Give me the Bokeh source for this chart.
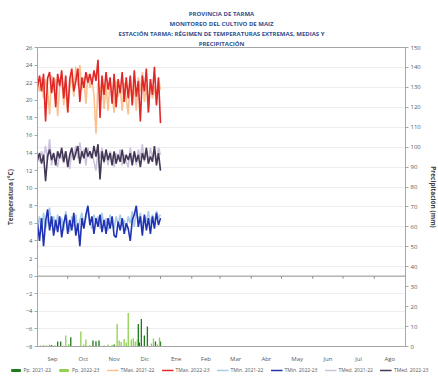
import numpy as np
from bokeh.plotting import figure
from bokeh.models import (Range1d, LinearAxis, FixedTicker, Legend, LegendItem,
                          Span, Title, Grid)
from bokeh.embed import file_html
from bokeh.resources import INLINE

# ---------------- data ----------------
months = ["Sep", "Oct", "Nov", "Dic", "Ene", "Feb", "Mar", "Abr", "May", "Jun", "Jul", "Ago"]
month_days = [30, 31, 30, 31, 31, 28, 31, 30, 31, 30, 31, 31]

days = list(range(0, 123, 2))  # day of season (from 1 Sep), every second day

tmax_2122 = [22.0, 21.0, 22.6, 20.2, 22.4, 21.2, 18.4, 22.8, 21.0, 22.4, 18.2, 21.6, 22.6, 19.4, 21.8, 18.6,
             21.4, 22.8, 20.4, 23.8, 21.6, 24.0, 21.2, 22.6, 19.6, 23.0, 21.4, 22.2, 20.6, 16.2, 22.0, 20.8,
             22.4, 19.0, 21.8, 18.8, 22.4, 20.8, 18.6, 22.2, 20.4, 21.6, 18.8, 22.0, 20.2, 18.4, 22.6, 19.6,
             21.8, 18.8, 22.6, 21.0, 23.2, 19.8, 21.8, 18.6, 22.4, 20.2, 21.6, 19.6, 22.4, 21.2]
tmax_2223 = [21.5, 22.8, 21.0, 23.0, 17.6, 22.5, 23.2, 20.8, 22.6, 19.2, 23.0, 21.6, 23.4, 20.2, 22.8, 18.6,
             22.4, 23.6, 21.0, 22.2, 23.6, 19.8, 22.6, 21.4, 23.2, 22.0, 23.0, 21.8, 23.4, 22.2, 24.6, 18.0,
             22.8, 20.6, 23.2, 21.2, 22.6, 19.6, 23.0, 19.2, 22.4, 20.8, 23.2, 19.8, 22.6, 20.2, 22.8, 19.4,
             23.4, 20.4, 22.2, 17.6, 22.8, 21.0, 23.6, 18.6, 22.4, 20.6, 23.8, 19.4, 22.6, 17.4]
tmin_2122 = [5.6, 6.8, 5.0, 7.2, 5.4, 6.4, 7.8, 5.6, 6.8, 5.2, 7.0, 5.8, 6.6, 5.2, 7.4, 6.0,
             5.0, 6.8, 5.6, 7.0, 5.2, 6.4, 7.2, 5.8, 6.6, 7.6, 6.2, 5.4, 7.0, 6.0, 6.8, 5.4,
             7.2, 5.6, 6.6, 5.2, 7.0, 6.0, 5.4, 6.8, 5.8, 7.0, 5.6, 6.4, 5.2, 6.8, 6.0, 7.4,
             5.6, 7.6, 6.2, 7.2, 5.6, 6.8, 6.2, 7.4, 5.8, 7.0, 6.2, 7.4, 6.6, 7.0]
tmin_2223 = [6.0, 4.0, 6.6, 3.4, 6.2, 7.6, 5.2, 6.8, 4.6, 6.4, 5.0, 6.8, 4.4, 6.0, 7.0, 4.8,
             6.4, 5.2, 7.2, 4.6, 6.0, 3.4, 6.6, 5.4, 7.0, 8.0, 5.8, 6.8, 4.8, 6.6, 5.6, 7.0,
             5.0, 6.4, 4.8, 6.6, 5.4, 6.8, 4.6, 4.4, 6.2, 5.2, 6.6, 4.8, 6.0, 5.4, 4.0, 6.4,
             7.0, 8.0, 5.6, 6.8, 4.6, 7.0, 5.2, 6.6, 4.8, 6.8, 5.4, 7.2, 5.8, 6.6]
tmed_2122 = [13.8, 13.0, 14.2, 13.4, 14.8, 13.2, 15.6, 12.6, 14.0, 13.2, 12.4, 14.0, 13.6, 12.8, 14.2, 13.0,
             12.2, 14.4, 13.6, 14.8, 13.4, 15.2, 13.6, 14.4, 12.6, 14.6, 13.4, 14.0, 13.0, 12.0, 14.2, 13.4,
             14.6, 12.8, 14.0, 12.6, 14.2, 13.6, 12.4, 14.0, 13.2, 14.4, 12.6, 13.8, 13.0, 12.4, 14.6, 13.2,
             14.0, 12.6, 14.4, 13.4, 15.0, 13.0, 14.2, 12.8, 14.6, 13.4, 14.0, 12.8, 14.6, 13.8]
tmed_2223 = [13.2, 14.0, 12.8, 13.8, 10.8, 13.6, 14.4, 13.2, 14.0, 12.6, 14.2, 13.4, 14.6, 13.0, 14.2, 12.4,
             13.8, 14.6, 13.2, 14.0, 14.8, 12.8, 14.2, 13.4, 14.6, 13.6, 14.2, 13.4, 14.8, 13.6, 15.0, 11.0,
             14.2, 13.0, 14.4, 13.2, 14.0, 12.6, 14.2, 12.8, 13.8, 13.0, 14.4, 12.8, 13.8, 13.2, 14.0, 12.6,
             14.2, 13.0, 13.8, 12.4, 14.0, 13.2, 14.6, 12.8, 13.6, 13.0, 14.8, 12.6, 14.0, 12.0]

pp2122_day = [14, 20, 23, 33, 55, 58, 61, 76, 100, 101, 103, 106, 109, 117, 122]
pp2122_mm = [0.8, 2.5, 2.5, 4.7, 3.0, 2.6, 3.0, 1.0, 11.3, 2.0, 13.8, 5.5, 10.0, 2.5, 2.5]
pp2223_day = [3, 6, 9, 12, 17, 28, 31, 43, 46, 48, 52, 66, 70, 74, 79, 81, 83, 86, 88, 90,
              93, 95, 97, 99, 113, 115, 119, 121]
pp2223_mm = [0.5, 0.8, 0.5, 1.0, 0.6, 5.5, 1.2, 7.5, 1.0, 3.5, 0.8, 0.6, 1.0, 0.8, 11.3, 3.0,
             2.2, 3.8, 2.0, 16.8, 3.5, 4.2, 2.5, 3.5, 1.5, 4.0, 1.0, 4.5]

temp_ticks = list(range(-8, 27, 2))
pp_ticks = list(range(0, 151, 10))
title_lines = ["PROVINCIA DE TARMA", "MONITOREO DEL CULTIVO DE MAIZ",
               "ESTACIÓN TARMA: RÉGIMEN DE TEMPERATURAS EXTREMAS, MEDIAS Y", "PRECIPITACIÓN"]

series_labels = ["Pp. 2021-22", "Pp. 2022-23", "TMax. 2021-22", "TMax. 2022-23",
                 "TMin. 2021-22", "TMin. 2022-23", "TMed. 2021-22", "TMed. 2022-23"]
series_colors = ["#1E7B1E", "#92D050", "#FAC090", "#E02828",
                 "#A9CCE6", "#2232B4", "#CCC3DC", "#433856"]

# ---------------- main figure ----------------
FONT = "Open Sans"
LBL = "#595959"
AX = "#A6A6A6"
LW = 1.6

bounds = np.concatenate([[0], np.cumsum(month_days)])
centers = (bounds[:-1] + bounds[1:]) / 2.0

p = figure(frame_width=368, frame_height=299, x_range=Range1d(0, int(bounds[-1])), y_range=Range1d(-8, 26),
           output_backend="svg", toolbar_location=None,
           min_border_left=37, min_border_right=33, min_border_top=47, min_border_bottom=18)
p.extra_y_ranges = {"pp": Range1d(0, 150)}
p.background_fill_color = "white"
p.border_fill_color = "white"
p.outline_line_color = AX
p.outline_line_width = 1
p.xgrid.visible = False
p.ygrid.visible = False

p.add_layout(Grid(dimension=1, y_range_name="pp", ticker=FixedTicker(ticks=pp_ticks[4:]),
                  grid_line_color="#EEEEEE", grid_line_width=1))
p.add_layout(Grid(dimension=1, ticker=FixedTicker(ticks=[t for t in temp_ticks if -8 < t < 0]),
                  grid_line_color="#EEEEEE", grid_line_width=1))

# title (one Title per line; the first added sits closest to the plot)
for line in reversed(title_lines):
    t = Title(text=line, align="center", text_font=FONT, text_font_size="6px",
              text_font_style="bold", text_color="#2F4F8F", standoff=0,
              text_line_height=1.0)
    p.add_layout(t, "above")

# left axis
yl = p.yaxis[0]
yl.ticker = FixedTicker(ticks=temp_ticks)
yl.axis_label = "Temperatura (°C)"
yl.axis_label_text_font = FONT
yl.axis_label_text_font_size = "6.5px"
yl.axis_label_text_font_style = "bold"
yl.axis_label_text_color = "#404040"
yl.axis_label_standoff = 8
yl.major_label_text_font = FONT
yl.major_label_text_font_size = "6px"
yl.major_label_text_color = LBL
yl.major_label_standoff = 2
yl.major_tick_out = 3
yl.major_tick_in = 0
yl.minor_tick_out = 0
yl.minor_tick_in = 0
yl.axis_line_color = AX
yl.major_tick_line_color = AX

# right axis
yr = LinearAxis(y_range_name="pp", ticker=FixedTicker(ticks=pp_ticks),
                axis_label="Precipitación (mm)")
yr.axis_label_text_font = FONT
yr.axis_label_text_font_size = "6.5px"
yr.axis_label_text_font_style = "bold"
yr.axis_label_text_color = "#404040"
yr.axis_label_standoff = 5
yr.major_label_text_font = FONT
yr.major_label_text_font_size = "6px"
yr.major_label_text_color = LBL
yr.major_label_standoff = 2
yr.major_tick_out = 3
yr.major_tick_in = 0
yr.minor_tick_out = 0
yr.minor_tick_in = 0
yr.axis_line_color = AX
yr.major_tick_line_color = AX
p.add_layout(yr, "right")

# bottom axis
xa = p.xaxis[0]
xa.ticker = FixedTicker(ticks=[float(c) for c in centers])
xa.major_label_overrides = {float(c): m for c, m in zip(centers, months)}
xa.major_label_text_font = FONT
xa.major_label_text_font_size = "6px"
xa.major_label_text_color = LBL
xa.major_label_standoff = 8
xa.major_tick_out = 0
xa.major_tick_in = 0
xa.minor_tick_out = 0
xa.minor_tick_in = 0
xa.axis_line_color = AX

# zero line with month boundary ticks
p.add_layout(Span(location=0, dimension="width", line_color="#8C8C8C", line_width=1))
p.segment(x0=bounds[1:-1], y0=0, x1=bounds[1:-1], y1=-0.3, line_color="#8C8C8C", line_width=1)


def draw_series(fig, range_name):
    """Draw all eight series on fig; returns renderers in legend order."""
    kw = {"y_range_name": range_name} if range_name else {}
    rs = [fig.vbar(x=pp2122_day, top=pp2122_mm, bottom=0, width=1.3,
                   fill_color=series_colors[0], line_color=None, **kw),
          fig.vbar(x=pp2223_day, top=pp2223_mm, bottom=0, width=1.3,
                   fill_color=series_colors[1], line_color=None, **kw)]
    lines = {}
    for idx, ys in [(2, tmax_2122), (4, tmin_2122), (6, tmed_2122),
                    (3, tmax_2223), (5, tmin_2223), (7, tmed_2223)]:
        lines[idx] = fig.line(days, ys, line_color=series_colors[idx], line_width=LW)
    return rs + [lines[i] for i in range(2, 8)]


draw_series(p, "pp")

# ---------------- legend strip (same series, outside its visible range) ----------------
lg = figure(width=438, height=9, x_range=Range1d(-20, -19), y_range=Range1d(-20, -19),
            output_backend="svg", toolbar_location=None, x_axis_type=None, y_axis_type=None,
            min_border=0, min_border_left=0, min_border_right=0, min_border_top=0, min_border_bottom=0)
lg.outline_line_color = None
lg.xgrid.visible = False
lg.ygrid.visible = False
lg.background_fill_color = "white"
lg.border_fill_color = "white"

renderers = draw_series(lg, None)
items = [LegendItem(label=lab, renderers=[r]) for lab, r in zip(series_labels, renderers)]

legend = Legend(items=items, orientation="horizontal", location="center")
legend.label_text_font = FONT
legend.label_text_font_size = "5px"
legend.label_text_color = LBL
legend.glyph_width = 12
legend.glyph_height = 4
legend.label_standoff = 2
legend.label_height = 5
legend.spacing = 7
legend.padding = 0
legend.margin = 0
legend.border_line_color = None
legend.background_fill_alpha = 0
lg.add_layout(legend, "center")

# two independent roots, stacked: the chart and its legend strip
open("out.html", "w").write(file_html([p, lg], INLINE))
